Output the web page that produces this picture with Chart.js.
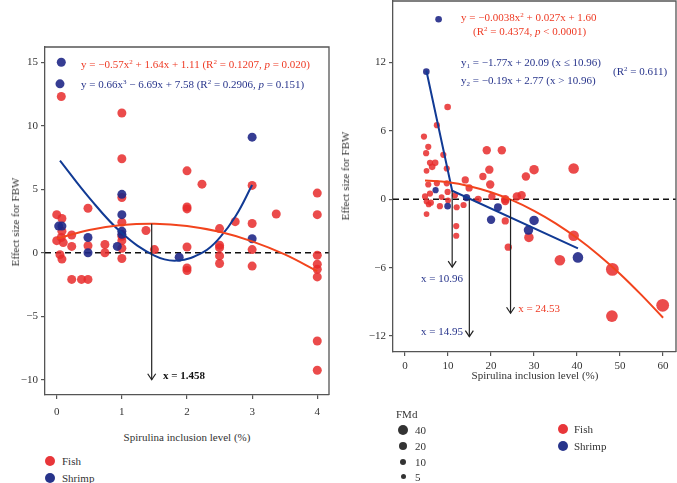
<!DOCTYPE html>
<html><head><meta charset="utf-8">
<script src="https://cdn.jsdelivr.net/npm/chart.js@4.4.1/dist/chart.umd.min.js"></script>
<style>
body{margin:0;background:#fff;}
#wrap{position:relative;width:677px;height:483px;overflow:hidden;background:#fff;font-family:"Liberation Serif","DejaVu Serif",serif;}
canvas{position:absolute;}
.t{position:absolute;white-space:nowrap;font-size:11px;line-height:12px;color:#333;}
.red{color:#EE3A24;}
.navy{color:#27348B;}
sup{font-size:7px;vertical-align:4px;line-height:0;}
sub{font-size:7px;vertical-align:-2px;line-height:0;}
.dot{position:absolute;border-radius:50%;}
.rot{transform:translate(-50%,-50%) rotate(-90deg);}
</style></head>
<body><div id="wrap">
<canvas id="cl" width="335" height="425" style="left:0;top:0"></canvas>
<canvas id="cr" width="327" height="375" style="left:350px;top:0"></canvas>

<div class="t red" style="left:81px;top:58px">y = −0.57x<sup>2</sup> + 1.64x + 1.11 (R<sup>2</sup> = 0.1207, <i>p</i> = 0.020)</div>
<div class="t navy" style="left:81px;top:78px">y = 0.66x<sup>3</sup> − 6.69x + 7.58 (R<sup>2</sup> = 0.2906, <i>p</i> = 0.151)</div>

<div class="t red" style="left:461px;top:11px">y = −0.0038x<sup>2</sup> + 0.027x + 1.60</div>
<div class="t red" style="left:473px;top:25px">(R<sup>2</sup> = 0.4374, <i>p</i> &lt; 0.0001)</div>
<div class="t navy" style="left:461px;top:56px">y<sub>1</sub> = −1.77x + 20.09 (x ≤ 10.96)</div>
<div class="t navy" style="left:461px;top:74px">y<sub>2</sub> = −0.19x + 2.77 (x &gt; 10.96)</div>
<div class="t navy" style="left:613px;top:65px">(R<sup>2</sup> = 0.611)</div>

<div class="t rot" style="left:15px;top:222px;position:absolute">Effect size for FBW</div>
<div class="t rot" style="left:345px;top:176px;position:absolute">Effect size for FBW</div>
<div class="t" style="left:187px;top:431px;transform:translateX(-50%)">Spirulina inclusion level (%)</div>
<div class="t" style="left:535px;top:369px;transform:translateX(-50%)">Spirulina inclusion level (%)</div>

<div class="dot" style="left:45px;top:456px;width:10px;height:10px;background:#E8363A"></div>
<div class="t" style="left:62px;top:455px">Fish</div>
<div class="dot" style="left:45px;top:473px;width:10px;height:10px;background:#27348B"></div>
<div class="t" style="left:62px;top:472px">Shrimp</div>

<div class="t" style="left:396px;top:408px">FMd</div>
<div class="dot" style="left:398px;top:425px;width:10px;height:10px;background:#333"></div>
<div class="t" style="left:415px;top:424px">40</div>
<div class="dot" style="left:399px;top:442px;width:8px;height:8px;background:#333"></div>
<div class="t" style="left:415px;top:440px">20</div>
<div class="dot" style="left:400px;top:459px;width:6px;height:6px;background:#333"></div>
<div class="t" style="left:415px;top:456px">10</div>
<div class="dot" style="left:401px;top:474px;width:5px;height:5px;background:#333"></div>
<div class="t" style="left:415px;top:471px">5</div>

<div class="dot" style="left:558px;top:424px;width:10px;height:10px;background:#E8363A"></div>
<div class="t" style="left:574px;top:423px">Fish</div>
<div class="dot" style="left:558px;top:441px;width:10px;height:10px;background:#27348B"></div>
<div class="t" style="left:574px;top:440px">Shrimp</div>

<div id="lab1" class="t" style="color:#111;font-weight:bold">x = 1.458</div>
<div id="lab2" class="t navy">x = 10.96</div>
<div id="lab3" class="t navy">x = 14.95</div>
<div id="lab4" class="t red">x = 24.53</div>
</div>
<script>
// ---------- LEFT PANEL DATA ----------
const L_FISH_X = [0.0,0.08,0.08,0.07,0.0,0.1,0.05,0.08,0.07,0.23,0.23,0.23,0.38,0.48,0.48,0.48,0.74,0.74,
  1,1,1,1,1,1,1,1,1.37,1.5,
  2,2,2,2,2,2,2.23,
  2.5,2.5,2.5,2.5,2.5,2.74,
  3,3,3,3,3.37,
  4,4,4,4,4,4,4,4];
const L_FISH_Y = [3.0,2.7,1.7,1.2,0.95,0.8,-0.15,-0.5,12.3,1.4,0.5,-2.1,-2.1,-2.1,3.5,0.55,0.65,0.0,
  11.0,7.4,4.35,2.4,1.3,0.95,0.35,-0.45,1.75,0.25,
  6.45,3.6,3.45,0.45,-1.2,-1.4,5.4,
  1.9,0.6,0.4,-0.25,-0.85,2.45,
  5.3,2.3,0.25,-1.05,3.05,
  4.7,3.0,-0.2,-0.9,-1.3,-1.9,-6.95,-9.25];
const L_SHRIMP_X = [0.07,0.05,0.03,0.08,0.48,0.48,0.93,1,1,1,1,1.88,3,3];
const L_SHRIMP_Y = [15.0,13.3,2.1,2.1,1.2,0.0,0.5,4.6,3.0,1.7,1.45,-0.35,9.1,1.1];
const L_FISH_CURVE_X = [0,0.5,1,1.5,2,2.5,3,3.5,4];
const L_FISH_CURVE_Y = [1.11,1.79,2.18,2.29,2.11,1.65,0.9,-0.13,-1.45];
const L_SHRIMP_CURVE_X = [0.05,0.5,1,1.5,1.85,2.25,2.5,2.75,3];
const L_SHRIMP_CURVE_Y = [7.25,4.32,1.55,-0.23,-0.62,0.05,1.17,2.91,5.33];
const L_X_TICKS = [0,1,2,3,4];
const L_Y_TICKS = [-10,-5,0,5,10,15];
const L_ARROW = [1.458, 2.29, -10];   // x, from y, to y

// ---------- RIGHT PANEL DATA ----------
const R_FISH_X = [4.4,5.4,4.9,7.4,9.9,8.9,5.8,7.0,6.3,5.0,9.7,19.0,22.5,19.6,18.1,19.8,30.0,28.1,39.2,
  5.4,7.4,9.7,14.0,14.9,4.65,5.8,9.9,11.6,17.0,20.2,23.3,26.0,27.1,5.0,6.0,8.1,12.0,13.6,5.0,11.9,11.9,
  23.3,23.3,24.0,28.8,39.2,36.0,48.2,48.1,59.9,8.5,10.0,5.5];
const R_FISH_Y = [5.5,4.6,4.05,6.5,8.1,3.9,3.2,3.2,2.85,2.5,2.7,4.3,4.3,2.6,2.0,1.3,2.6,2.0,2.7,
  1.3,1.4,1.4,1.7,1.0,0.25,0.5,0.65,0.35,0.0,0.25,0.0,0.25,0.35,-0.2,-0.3,-0.6,-0.7,-0.5,-1.3,-2.35,-3.2,
  -0.15,-1.9,-4.2,-3.35,-3.2,-5.35,-6.15,-10.25,-9.3,0.2,-0.1,-0.45];
const R_FISH_FMD = [10,10,10,10,12,10,10,12,12,8,10,20,20,20,15,20,25,20,30,
  10,10,10,15,15,10,10,10,10,15,15,20,20,20,8,10,10,10,10,8,10,10,
  20,15,15,25,30,30,40,35,40,8,8,8];
const R_SHRIMP_X = [7.8,4.95,7.1,9.9,14.3,20.0,21.6,28.7,30.0,40.2];
const R_SHRIMP_Y = [15.8,11.2,0.8,-0.6,0.15,-1.8,-0.7,-2.7,-1.85,-5.1];
const R_SHRIMP_FMD = [12,12,10,12,15,20,18,25,25,30];
const R_FISH_CURVE_X = [4.65,10,15,20,25,30,35,40,45,50,55,60];
const R_FISH_CURVE_Y = [1.64,1.49,1.15,0.62,-0.10,-1.01,-2.11,-3.4,-4.88,-6.55,-8.41,-10.4];
const R_SHRIMP_LINE_X = [4.95,10.96,40.2];
const R_SHRIMP_LINE_Y = [11.3,0.75,-4.3];
const R_X_TICKS = [0,10,20,30,40,50,60];
const R_Y_TICKS = [-12,-6,0,6,12];
const R_ARROWS_X = [10.96,14.95,24.53];
const R_ARROWS_FROM = [0.75,0,0];
const R_ARROWS_TO = [-5.95,-12.05,-10.0];

const RED = 'rgba(232,44,44,0.85)';
const NAVY = 'rgba(32,40,135,0.9)';
const CURVE_RED = '#F2441D';
const CURVE_NAVY = '#113A94';
const FONT = {family:'"Liberation Serif", serif', size:11};

function pts(xs, ys){ return xs.map((x,i)=>({x:x, y:ys[i]})); }
function fmt(v){ return String(v).replace('-', '\u2212'); }
function rOf(f){ return 2 + 0.11*f; }

function axis(min,max,ticksArr,size,isX,pad){
  return {
    type:'linear', min:min, max:max,
    afterBuildTicks: s => { s.ticks = ticksArr.map(v=>({value:v})); },
    afterFit: s => {
      if(isX) s.height = size; else s.width = size;
      s.paddingTop = 0; s.paddingBottom = 0; s.paddingLeft = 0; s.paddingRight = 0;
    },
    ticks:{font:FONT, color:'#333', padding:pad, callback: v => fmt(v), maxRotation:0, autoSkip:false},
    grid:{drawOnChartArea:false, drawTicks:true, tickLength:4, color:'#555', lineWidth:1.2},
    border:{color:'#555', width:1.3}
  };
}

function extras(arrows){
  return {
    id:'extras',
    beforeDatasetsDraw(chart){
      const c = chart.ctx, a = chart.chartArea, y0 = chart.scales.y.getPixelForValue(0);
      c.save();
      c.strokeStyle = '#111'; c.lineWidth = 1.4; c.setLineDash([6,4]);
      c.beginPath(); c.moveTo(a.left, y0); c.lineTo(a.right, y0); c.stroke();
      c.restore();
    },
    afterDatasetsDraw(chart){
      const c = chart.ctx, a = chart.chartArea, sx = chart.scales.x, sy = chart.scales.y;
      c.save();
      c.strokeStyle = '#222'; c.lineWidth = 1.2;
      arrows.forEach(ar => {
        const px = sx.getPixelForValue(ar[0]), p1 = sy.getPixelForValue(ar[1]), p2 = sy.getPixelForValue(ar[2]);
        c.beginPath(); c.moveTo(px,p1); c.lineTo(px,p2); c.stroke();
        c.beginPath(); c.moveTo(px-4,p2-6); c.lineTo(px,p2); c.lineTo(px+4,p2-6); c.stroke();
      });
      c.strokeStyle = '#555'; c.lineWidth = 1.3;
      c.beginPath(); c.moveTo(a.left,a.top); c.lineTo(a.right,a.top); c.lineTo(a.right,a.bottom); c.stroke();
      c.restore();
    }
  };
}

const baseOpts = {
  responsive:false, animation:false, devicePixelRatio:1,
  plugins:{legend:{display:false}, tooltip:{enabled:false}}
};

const left = new Chart(document.getElementById('cl'), {
  type:'scatter',
  data:{datasets:[
    {data:pts(L_FISH_CURVE_X,L_FISH_CURVE_Y), showLine:true, pointRadius:0, borderColor:CURVE_RED, borderWidth:2, tension:0.4, order:0},
    {data:pts(L_SHRIMP_CURVE_X,L_SHRIMP_CURVE_Y), showLine:true, pointRadius:0, borderColor:CURVE_NAVY, borderWidth:2, tension:0.4, order:0},
    {data:pts(L_SHRIMP_X,L_SHRIMP_Y), pointRadius:4.5, backgroundColor:NAVY, borderWidth:0, order:1},
    {data:pts(L_FISH_X,L_FISH_Y), pointRadius:4.5, backgroundColor:RED, borderWidth:0, order:2}
  ]},
  options:Object.assign({}, baseOpts, {
    layout:{autoPadding:false, padding:{top:47,right:6,left:0,bottom:0}},
    scales:{x:axis(-0.18,4.18,L_X_TICKS,30,true,7), y:axis(-11.2,16.2,L_Y_TICKS,45,false,3)}
  }),
  plugins:[extras([L_ARROW])]
});

const right = new Chart(document.getElementById('cr'), {
  type:'scatter',
  data:{datasets:[
    {data:pts(R_FISH_CURVE_X,R_FISH_CURVE_Y), showLine:true, pointRadius:0, borderColor:CURVE_RED, borderWidth:2, tension:0.4, order:0},
    {data:pts(R_SHRIMP_LINE_X,R_SHRIMP_LINE_Y), showLine:true, pointRadius:0, borderColor:CURVE_NAVY, borderWidth:2, tension:0, order:0},
    {data:pts(R_SHRIMP_X,R_SHRIMP_Y), pointRadius: ctx => rOf(R_SHRIMP_FMD[ctx.dataIndex]), backgroundColor:NAVY, borderWidth:0, order:1},
    {data:pts(R_FISH_X,R_FISH_Y), pointRadius: ctx => rOf(R_FISH_FMD[ctx.dataIndex]), backgroundColor:RED, borderWidth:0, order:2}
  ]},
  options:Object.assign({}, baseOpts, {
    layout:{autoPadding:false, padding:{top:1,right:1,left:0,bottom:0}},
    scales:{x:axis(-2.8,63,R_X_TICKS,23,true,4), y:axis(-13.4,17.4,R_Y_TICKS,43,false,3)}
  }),
  plugins:[extras(R_ARROWS_X.map((x,i)=>[x,R_ARROWS_FROM[i],R_ARROWS_TO[i]]))]
});

function place(id, chart, offX, xv, yv){
  const el = document.getElementById(id);
  el.style.left = (offX + chart.scales.x.getPixelForValue(xv)) + 'px';
  el.style.top = (chart.scales.y.getPixelForValue(yv) - 6) + 'px';
}
place('lab1', left, 0, 1.63, -9.6);
place('lab2', right, 350, 3.7, -6.9);
place('lab3', right, 350, 3.7, -11.6);
place('lab4', right, 350, 26.3, -9.5);
</script>
</body></html>
